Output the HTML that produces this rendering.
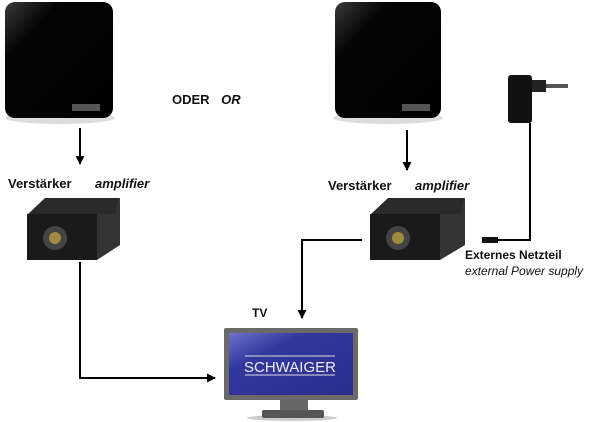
<!DOCTYPE html>
<html><head><style>
body{margin:0;width:600px;height:422px;background:#fff;position:relative;overflow:hidden;font-family:"Liberation Sans",sans-serif}
.t{position:absolute;font-size:13px;font-weight:bold;color:#111;white-space:nowrap}
.i{font-style:italic}
</style></head><body>
<svg width="600" height="422" style="position:absolute;left:0;top:0">
<defs>
<linearGradient id="ant" x1="0" y1="0" x2="1" y2="1"><stop offset="0" stop-color="#3a3a3a"/><stop offset="0.25" stop-color="#050505"/><stop offset="1" stop-color="#000"/></linearGradient>
<linearGradient id="scr" x1="0" y1="0" x2="1" y2="1"><stop offset="0" stop-color="#6d74c8"/><stop offset="0.3" stop-color="#3338a0"/><stop offset="1" stop-color="#2a2d8c"/></linearGradient>
<marker id="ah" markerUnits="userSpaceOnUse" markerWidth="9" markerHeight="9" refX="8" refY="4.5" orient="auto"><path d="M0,0 L9,4.5 L0,9 Z" fill="#000"/></marker>
</defs>
<ellipse cx="60" cy="118" rx="55" ry="6" fill="#ddd"/>
<rect x="5" y="2" width="108" height="116" rx="10" fill="url(#ant)"/>
<rect x="72" y="104" width="28" height="7" fill="#555"/>
<ellipse cx="388" cy="118" rx="55" ry="6" fill="#ddd"/>
<rect x="335" y="2" width="106" height="116" rx="10" fill="url(#ant)"/>
<rect x="402" y="104" width="28" height="7" fill="#555"/>
<line x1="80" y1="128" x2="80" y2="164" stroke="#000" stroke-width="2" marker-end="url(#ah)"/>
<line x1="407" y1="130" x2="407" y2="170" stroke="#000" stroke-width="2" marker-end="url(#ah)"/>
<polygon points="27,215 45,198 120,198 115,215" fill="#2a2a2a"/>
<rect x="27" y="214" width="70" height="46" fill="#1a1a1a"/>
<polygon points="97,214 115,214 120,198 120,245 97,260" fill="#333"/>
<circle cx="55" cy="238" r="12" fill="#444"/><circle cx="55" cy="238" r="6" fill="#a08a40"/>
<polygon points="370,215 388,198 465,198 460,215" fill="#2a2a2a"/>
<rect x="370" y="214" width="70" height="46" fill="#1a1a1a"/>
<polygon points="440,214 460,214 465,198 465,245 440,260" fill="#333"/>
<circle cx="398" cy="238" r="12" fill="#444"/><circle cx="398" cy="238" r="6" fill="#a08a40"/>
<polyline points="80,262 80,378 215,378" fill="none" stroke="#000" stroke-width="2" marker-end="url(#ah)"/>
<polyline points="362,240 302,240 302,318" fill="none" stroke="#000" stroke-width="2" marker-end="url(#ah)"/>
<rect x="508" y="75" width="24" height="48" rx="3" fill="#111"/>
<rect x="532" y="80" width="14" height="12" fill="#222"/>
<rect x="546" y="84" width="22" height="4" fill="#555"/>
<polyline points="530,123 530,240 497,240" fill="none" stroke="#000" stroke-width="2"/>
<rect x="482" y="237" width="16" height="6" fill="#111"/>
<ellipse cx="292" cy="418" rx="45" ry="3" fill="#ccc"/>
<rect x="280" y="398" width="28" height="14" fill="#666"/>
<rect x="262" y="410" width="62" height="8" rx="2" fill="#555"/>
<rect x="224" y="328" width="134" height="72" rx="2" fill="#6a6a6a"/>
<rect x="229" y="333" width="124" height="62" fill="url(#scr)"/>
<line x1="245" y1="356" x2="335" y2="356" stroke="#ddd" stroke-width="1"/>
<line x1="245" y1="375" x2="335" y2="375" stroke="#ddd" stroke-width="1"/>
<text x="290" y="372" text-anchor="middle" font-family="Liberation Sans" font-size="15" fill="#eee">SCHWAIGER</text>
</svg>
<div class="t" style="left:172px;top:92px">ODER <span class="i" style="margin-left:8px">OR</span></div>
<div class="t" style="left:8px;top:176px">Verstärker</div>
<div class="t i" style="left:95px;top:176px">amplifier</div>
<div class="t" style="left:328px;top:178px">Verstärker</div>
<div class="t i" style="left:415px;top:178px">amplifier</div>
<div class="t" style="left:465px;top:248px;font-size:12px">Externes Netzteil</div>
<div class="t i" style="left:465px;top:264px;font-size:12px;font-weight:normal">external Power supply</div>
<div class="t" style="left:252px;top:306px;font-size:12px">TV</div>
</body></html>
